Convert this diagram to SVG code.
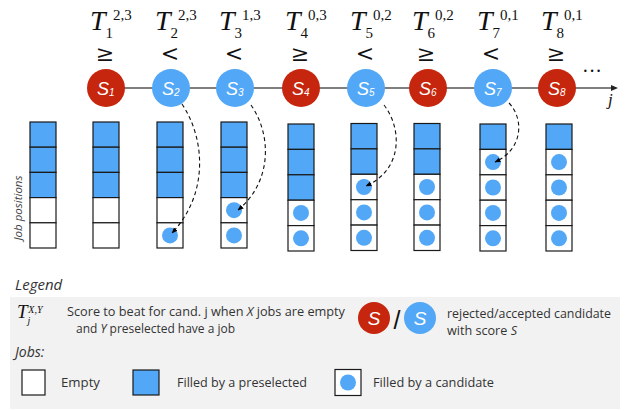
<svg xmlns="http://www.w3.org/2000/svg" width="629" height="411" viewBox="0 0 629 411">
<defs>
<marker id="ah" viewBox="0 0 10 10" refX="9" refY="5" markerWidth="6" markerHeight="6" orient="auto" markerUnits="userSpaceOnUse">
<path d="M0,1 L10,5 L0,9 z" fill="#000"/>
</marker>
</defs>
<style>
.T{font-family:"Liberation Serif",serif;font-style:italic;font-size:28px;fill:#111}
.ix{font-style:normal;font-size:15px}
.rel{font-family:"DejaVu Serif","Liberation Serif",serif;font-size:22px;fill:#111;text-anchor:middle}
.red{fill:#c5260d}
.blue{fill:#52a8f6}
.cs{font-family:"Liberation Sans",sans-serif;font-style:italic;font-size:18px;fill:#fff}
.csub{font-size:10px}
.cell{stroke:#1a1a1a;stroke-width:1.2;fill:#fff}
.cellb{stroke:#1a1a1a;stroke-width:1.2;fill:#52a8f6}
.dot{fill:#52a8f6}
.dash{fill:none;stroke:#111;stroke-width:1.1;stroke-dasharray:4,3}
.lg{font-family:"Open Sans","Liberation Sans",sans-serif;font-size:12px;fill:#333}
.lgi{font-family:"Open Sans","Liberation Sans",sans-serif;font-size:14px;font-style:italic;fill:#333}
</style>

<g id="axis">
<line x1="106" y1="88" x2="614" y2="88" stroke="#555" stroke-width="1.3"/>
<path d="M618,88 L611,85 L611,91 z" fill="#222"/>
<text x="592" y="78" font-family="Liberation Serif,serif" font-size="20" fill="#111" text-anchor="middle">···</text>
<text x="608" y="105" class="T" style="font-size:17px">j</text>
</g>

<g id="thresholds">
<text class="T" x="90" y="30">T<tspan class="ix" dy="8">1</tspan><tspan class="ix" dy="-18">2,3</tspan></text>
<text class="T" x="155" y="30">T<tspan class="ix" dy="8">2</tspan><tspan class="ix" dy="-18">2,3</tspan></text>
<text class="T" x="219" y="30">T<tspan class="ix" dy="8">3</tspan><tspan class="ix" dy="-18">1,3</tspan></text>
<text class="T" x="285" y="30">T<tspan class="ix" dy="8">4</tspan><tspan class="ix" dy="-18">0,3</tspan></text>
<text class="T" x="350" y="30">T<tspan class="ix" dy="8">5</tspan><tspan class="ix" dy="-18">0,2</tspan></text>
<text class="T" x="412" y="30">T<tspan class="ix" dy="8">6</tspan><tspan class="ix" dy="-18">0,2</tspan></text>
<text class="T" x="477" y="30">T<tspan class="ix" dy="8">7</tspan><tspan class="ix" dy="-18">0,1</tspan></text>
<text class="T" x="541" y="30">T<tspan class="ix" dy="8">8</tspan><tspan class="ix" dy="-18">0,1</tspan></text>
<text class="rel" x="105" y="61">≥</text>
<text class="rel" x="170" y="61">&lt;</text>
<text class="rel" x="234" y="61">&lt;</text>
<text class="rel" x="300" y="61">≥</text>
<text class="rel" x="365" y="61">&lt;</text>
<text class="rel" x="426" y="61">≥</text>
<text class="rel" x="491" y="61">&lt;</text>
<text class="rel" x="556" y="61">≥</text>
</g>

<g id="s1"><circle class="red" cx="106" cy="88" r="19"/><text class="cs" x="97" y="95">S<tspan class="csub" dy="1">1</tspan></text></g>
<g id="s2"><circle class="blue" cx="171" cy="88" r="19"/><text class="cs" x="162" y="95">S<tspan class="csub" dy="1">2</tspan></text></g>
<g id="s3"><circle class="blue" cx="235" cy="88" r="19"/><text class="cs" x="226" y="95">S<tspan class="csub" dy="1">3</tspan></text></g>
<g id="s4"><circle class="red" cx="301" cy="88" r="19"/><text class="cs" x="292" y="95">S<tspan class="csub" dy="1">4</tspan></text></g>
<g id="s5"><circle class="blue" cx="366" cy="88" r="19"/><text class="cs" x="357" y="95">S<tspan class="csub" dy="1">5</tspan></text></g>
<g id="s6"><circle class="red" cx="428" cy="88" r="19"/><text class="cs" x="419" y="95">S<tspan class="csub" dy="1">6</tspan></text></g>
<g id="s7"><circle class="blue" cx="493" cy="88" r="19"/><text class="cs" x="484" y="95">S<tspan class="csub" dy="1">7</tspan></text></g>
<g id="s8"><circle class="red" cx="557" cy="88" r="19"/><text class="cs" x="548" y="95">S<tspan class="csub" dy="1">8</tspan></text></g>

<text x="22" y="208" transform="rotate(-90 22 208)" text-anchor="middle" font-family="Open Sans,Liberation Sans,sans-serif" font-style="italic" font-size="11.5" fill="#444">Job positions</text>

<g id="col0">
<rect class="cellb" x="30" y="122" width="26" height="25.2"/><rect class="cellb" x="30" y="147.2" width="26" height="25.2"/><rect class="cellb" x="30" y="172.4" width="26" height="25.2"/>
<rect class="cell" x="30" y="197.6" width="26" height="25.2"/><rect class="cell" x="30" y="222.8" width="26" height="25.2"/>
</g>
<g id="col1">
<rect class="cellb" x="93" y="122" width="26" height="25.2"/><rect class="cellb" x="93" y="147.2" width="26" height="25.2"/><rect class="cellb" x="93" y="172.4" width="26" height="25.2"/>
<rect class="cell" x="93" y="197.6" width="26" height="25.2"/><rect class="cell" x="93" y="222.8" width="26" height="25.2"/>
</g>
<g id="col2">
<rect class="cellb" x="157" y="122" width="26" height="25.2"/><rect class="cellb" x="157" y="147.2" width="26" height="25.2"/><rect class="cellb" x="157" y="172.4" width="26" height="25.2"/>
<rect class="cell" x="157" y="197.6" width="26" height="25.2"/><rect class="cell" x="157" y="222.8" width="26" height="25.2"/>
<circle class="dot" cx="170" cy="235.4" r="8"/>
</g>
<g id="col3">
<rect class="cellb" x="221" y="122" width="26" height="25.2"/><rect class="cellb" x="221" y="147.2" width="26" height="25.2"/><rect class="cellb" x="221" y="172.4" width="26" height="25.2"/>
<rect class="cell" x="221" y="197.6" width="26" height="25.2"/><rect class="cell" x="221" y="222.8" width="26" height="25.2"/>
<circle class="dot" cx="234" cy="210.2" r="8"/><circle class="dot" cx="234" cy="235.4" r="8"/>
</g>
<g id="col4">
<rect class="cellb" x="288" y="124" width="26" height="25.4"/><rect class="cellb" x="288" y="149.4" width="26" height="25.4"/><rect class="cellb" x="288" y="174.8" width="26" height="25.4"/>
<rect class="cell" x="288" y="200.2" width="26" height="25.4"/><rect class="cell" x="288" y="225.6" width="26" height="25.4"/>
<circle class="dot" cx="301" cy="212.9" r="8"/><circle class="dot" cx="301" cy="238.3" r="8"/>
</g>
<g id="col5">
<rect class="cellb" x="351" y="123.5" width="26" height="25.4"/><rect class="cellb" x="351" y="148.9" width="26" height="25.4"/>
<rect class="cell" x="351" y="174.3" width="26" height="25.4"/><rect class="cell" x="351" y="199.7" width="26" height="25.4"/><rect class="cell" x="351" y="225.1" width="26" height="25.4"/>
<circle class="dot" cx="364" cy="187" r="8"/><circle class="dot" cx="364" cy="212.4" r="8"/><circle class="dot" cx="364" cy="237.8" r="8"/>
</g>
<g id="col6">
<rect class="cellb" x="414" y="123.5" width="26" height="25.4"/><rect class="cellb" x="414" y="148.9" width="26" height="25.4"/>
<rect class="cell" x="414" y="174.3" width="26" height="25.4"/><rect class="cell" x="414" y="199.7" width="26" height="25.4"/><rect class="cell" x="414" y="225.1" width="26" height="25.4"/>
<circle class="dot" cx="427" cy="187" r="8"/><circle class="dot" cx="427" cy="212.4" r="8"/><circle class="dot" cx="427" cy="237.8" r="8"/>
</g>
<g id="col7">
<rect class="cellb" x="480" y="124" width="26" height="25.4"/>
<rect class="cell" x="480" y="149.4" width="26" height="25.4"/><rect class="cell" x="480" y="174.8" width="26" height="25.4"/><rect class="cell" x="480" y="200.2" width="26" height="25.4"/><rect class="cell" x="480" y="225.6" width="26" height="25.4"/>
<circle class="dot" cx="493" cy="162.1" r="8"/><circle class="dot" cx="493" cy="187.5" r="8"/><circle class="dot" cx="493" cy="212.9" r="8"/><circle class="dot" cx="493" cy="238.3" r="8"/>
</g>
<g id="col8">
<rect class="cellb" x="546" y="124" width="26" height="25.4"/>
<rect class="cell" x="546" y="149.4" width="26" height="25.4"/><rect class="cell" x="546" y="174.8" width="26" height="25.4"/><rect class="cell" x="546" y="200.2" width="26" height="25.4"/><rect class="cell" x="546" y="225.6" width="26" height="25.4"/>
<circle class="dot" cx="559" cy="162.1" r="8"/><circle class="dot" cx="559" cy="187.5" r="8"/><circle class="dot" cx="559" cy="212.9" r="8"/><circle class="dot" cx="559" cy="238.3" r="8"/>
</g>

<g id="connectors">
<path class="dash" d="M182,104 C206,140 208,195 172,233" marker-end="url(#ah)"/>
<path class="dash" d="M251,105 C272,135 272,182 238,210" marker-end="url(#ah)"/>
<path class="dash" d="M384,105 C403,130 402,170 366,186" marker-end="url(#ah)"/>
<path class="dash" d="M509,103 C525,120 522,150 495,162" marker-end="url(#ah)"/>
</g>

<g id="legend">
<text class="lgi" x="15" y="290" style="font-size:15px">Legend</text>
<rect x="10" y="297" width="610" height="112" fill="#f2f2f2"/>
<text class="T" x="17" y="318" style="font-size:19px">T<tspan style="font-size:10px" dy="6">j</tspan><tspan style="font-size:10px" dx="-2" dy="-11.5">X,Y</tspan></text>
<text class="lg" x="67" y="316" textLength="278" lengthAdjust="spacingAndGlyphs">Score to beat for cand. j when <tspan font-style="italic">X</tspan> jobs are empty</text>
<text class="lg" x="76" y="333" textLength="159" lengthAdjust="spacingAndGlyphs">and <tspan font-style="italic">Y</tspan> preselected have a job</text>
<circle class="red" cx="374" cy="318" r="16"/>
<text class="cs" x="374" y="325" text-anchor="middle" style="font-size:19px">S</text>
<text x="397" y="329" text-anchor="middle" font-family="Liberation Sans,sans-serif" font-size="25" fill="#111">/</text>
<circle class="blue" cx="420" cy="318" r="16"/>
<text class="cs" x="420" y="325" text-anchor="middle" style="font-size:19px">S</text>
<text class="lg" x="447" y="318" textLength="164" lengthAdjust="spacingAndGlyphs">rejected/accepted candidate</text>
<text class="lg" x="447" y="335" textLength="70" lengthAdjust="spacingAndGlyphs">with score <tspan font-style="italic">S</tspan></text>
<text class="lgi" x="15" y="357">Jobs:</text>
<rect class="cell" x="22" y="370" width="23" height="25"/>
<text class="lg" x="61" y="387" textLength="39" lengthAdjust="spacingAndGlyphs">Empty</text>
<rect class="cellb" x="133" y="370" width="26" height="25"/>
<text class="lg" x="177" y="387" textLength="130" lengthAdjust="spacingAndGlyphs">Filled by a preselected</text>
<rect class="cell" x="335" y="369.5" width="26" height="26"/>
<circle class="dot" cx="348" cy="382.5" r="8"/>
<text class="lg" x="373" y="387" textLength="121" lengthAdjust="spacingAndGlyphs">Filled by a candidate</text>
</g>
</svg>
